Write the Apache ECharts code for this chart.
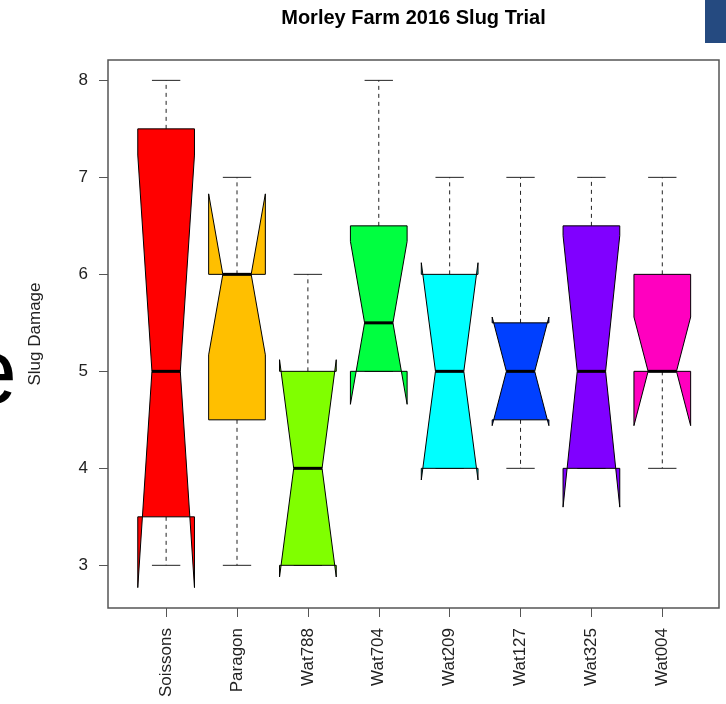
<!DOCTYPE html>
<html>
<head>
<meta charset="utf-8">
<script src="https://cdn.jsdelivr.net/npm/echarts@6/dist/echarts.min.js"></script>
<style>
  html, body { margin: 0; padding: 0; background: #fff; }
  #chart { width: 726px; height: 704px; }
</style>
</head>
<body>
<div id="chart"></div>
<script>
// Morley Farm 2016 slug trial, notched boxplot stats
const varieties = ['Soissons', 'Paragon', 'Wat788', 'Wat704', 'Wat209', 'Wat127', 'Wat325', 'Wat004']
const lowWhisker = [3, 3, 3, 5, 4, 4, 4, 4]
const lowerHinge = [3.5, 4.5, 3, 5, 4, 4.5, 4, 5]
const medians = [5, 6, 4, 5.5, 5, 5, 5, 5]
const upperHinge = [7.5, 6, 5, 6.5, 6, 5.5, 6.5, 6]
const highWhisker = [8, 7, 6, 8, 7, 7, 7, 7]
const notchLow = [2.77, 5.17, 2.88, 4.66, 3.88, 4.44, 3.6, 4.44]
const notchHigh = [7.23, 6.83, 5.12, 6.34, 6.12, 5.56, 6.4, 5.56]
const outliers = [[8, 8]] // [position, value]
const yTicks = [3, 4, 5, 6, 7, 8]
const colors = ['#FF0000', '#FFBF00', '#80FF00', '#00FF40', '#00FFFF', '#0040FF', '#8000FF', '#FF00BF']

const FONT = '"Liberation Sans", Arial, sans-serif'
const pos = varieties.map((_, i) => i + 1)
const boxData = varieties.map((_, i) => [pos[i], lowWhisker[i], lowerHinge[i], medians[i],
  upperHinge[i], highWhisker[i], notchLow[i], notchHigh[i]])

function renderBox(params, api) {
  const x = api.value(0)
  const lo = api.value(1), q1 = api.value(2), md = api.value(3), q3 = api.value(4)
  const hi = api.value(5), nlo = api.value(6), nhi = api.value(7)
  const p = (dx, v) => api.coord([x + dx, v])
  const W = 0.4, M = 0.2, S = 0.2
  const line = (a, b, style) => ({ type: 'line', shape: { x1: a[0], y1: a[1], x2: b[0], y2: b[1] }, style })
  const dash = { stroke: '#222', lineWidth: 1, lineDash: [4, 4] }
  const solid = { stroke: '#222', lineWidth: 1 }
  return {
    type: 'group',
    children: [
      line(p(0, q3), p(0, hi), dash),
      line(p(0, q1), p(0, lo), dash),
      line(p(-S, hi), p(S, hi), solid),
      line(p(-S, lo), p(S, lo), solid),
      {
        type: 'polygon',
        shape: { points: [p(-W, q1), p(-W, nlo), p(-M, md), p(-W, nhi), p(-W, q3),
          p(W, q3), p(W, nhi), p(M, md), p(W, nlo), p(W, q1)] },
        style: { fill: colors[params.dataIndex], stroke: '#000', lineWidth: 1 }
      },
      line(p(-M, md), p(M, md), { stroke: '#000', lineWidth: 3 })
    ]
  }
}

const chart = echarts.init(document.getElementById('chart'), null, { renderer: 'canvas' })
chart.setOption({
  animation: false,
  backgroundColor: '#fff',
  textStyle: { fontFamily: FONT },
  grid: { left: 108, right: 7, top: 60, bottom: 96, show: true, borderColor: '#555', borderWidth: 1.5, backgroundColor: '#fff' },
  xAxis: {
    type: 'value', min: 0.18, max: 8.8,
    axisLine: { show: false },
    splitLine: { show: false },
    axisTick: { show: true, length: 9, lineStyle: { color: '#555' }, customValues: pos },
    axisLabel: {
      customValues: pos, rotate: 90, margin: 20, fontSize: 17, color: '#222', fontFamily: FONT,
      formatter: v => varieties[Math.round(v) - 1]
    }
  },
  yAxis: {
    type: 'value', min: 2.56, max: 8.21,
    name: 'Slug Damage', nameLocation: 'middle', nameGap: 64,
    nameTextStyle: { fontSize: 17, color: '#222', fontFamily: FONT },
    axisLine: { show: false },
    splitLine: { show: false },
    axisTick: { show: true, length: 9, lineStyle: { color: '#555' }, customValues: yTicks },
    axisLabel: { customValues: yTicks, margin: 20, fontSize: 17, color: '#222', fontFamily: FONT }
  },
  series: [
    {
      type: 'custom',
      renderItem: renderBox,
      encode: { x: 0, y: [1, 2, 3, 4, 5, 6, 7] },
      data: boxData,
      z: 2
    },
    {
      type: 'scatter',
      data: outliers,
      symbol: 'emptyCircle',
      symbolSize: 8,
      itemStyle: { color: '#fff', borderColor: '#222', borderWidth: 1 },
      z: 3
    }
  ],
  graphic: [
    {
      type: 'text', x: 413.5, y: 8,
      style: { text: 'Morley Farm 2016 Slug Trial', fill: '#000', font: 'bold 20px ' + FONT, textAlign: 'center', textVerticalAlign: 'top' }
    },
    // edge of the slide behind the screenshot
    { type: 'text', x: 17, y: 378, style: { text: 'e', fill: '#000', font: '92px ' + FONT, textAlign: 'right', textVerticalAlign: 'middle' } },
    { type: 'rect', shape: { x: 705, y: 0, width: 21, height: 43 }, style: { fill: '#254a80' } }
  ]
})
</script>
</body>
</html>
